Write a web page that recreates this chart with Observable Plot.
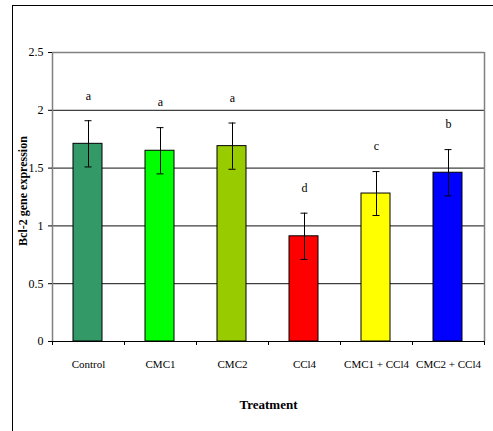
<!DOCTYPE html>
<html>
<head>
<meta charset="utf-8">
<script src="https://cdn.jsdelivr.net/npm/d3@7"></script>
<script src="https://cdn.jsdelivr.net/npm/@observablehq/plot@0.6"></script>
<style>
  html, body { margin: 0; padding: 0; background: #fff; }
  #wrap { position: relative; width: 493px; height: 431px; overflow: hidden; }
  #border { position: absolute; left: 12px; top: 5px; width: 600px; height: 600px;
            border-left: 1.5px solid #000; border-top: 1.5px solid #000; pointer-events: none; }
</style>
</head>
<body>
<div id="wrap"><div id="border"></div></div>
<script>
const categories = ["Control", "CMC1", "CMC2", "CCl4", "CMC1 + CCl4", "CMC2 + CCl4"];
const values = [1.71, 1.65, 1.69, 0.91, 1.28, 1.46];
const errors = [0.20, 0.20, 0.20, 0.20, 0.19, 0.20];
const letters = ["a", "a", "a", "d", "c", "b"];
const colors = ["#339966", "#00ff00", "#99cc00", "#ff0000", "#ffff00", "#0000ff"];
const yTicks = [0, 0.5, 1, 1.5, 2, 2.5];
const yTickLabels = ["0", "0.5", "1", "1.5", "2", "2.5"];

const data = categories.map((c, i) => ({
  cat: c, i, value: values[i], err: errors[i], letter: letters[i], color: colors[i]
}));
const boundaries = d3.range(categories.length + 1);
const centers = categories.map((c, i) => i + 0.5);

const chart = Plot.plot({
  width: 493,
  height: 431,
  marginLeft: 52,
  marginRight: 9,
  marginTop: 52,
  marginBottom: 90,
  style: { fontFamily: "Liberation Serif", fontSize: "12px", background: "transparent", color: "#000" },
  x: { domain: [0, categories.length] },
  y: { domain: [0, 2.5] },
  marks: [
    Plot.ruleY(yTicks.filter(v => v > 0 && v < 2.5), { stroke: "#111", strokeWidth: 1 }),
    Plot.ruleY([2.5], { stroke: "#808080", strokeWidth: 1.5 }),
    Plot.ruleX([categories.length], { stroke: "#808080", strokeWidth: 1.5 }),
    Plot.ruleX([0], { stroke: "#808080", strokeWidth: 1.5 }),
    Plot.rectY(data, {
      x1: "i", x2: d => d.i + 1, y1: 0, y2: "value",
      fill: d => d.color, stroke: "#000", strokeWidth: 1,
      insetLeft: 21, insetRight: 22
    }),
    Plot.ruleY([0], { stroke: "#000", strokeWidth: 1.2 }),
    Plot.ruleX(data, { x: d => d.i + 0.5, y1: d => d.value - d.err, y2: d => d.value + d.err, stroke: "#000", strokeWidth: 1 }),
    Plot.ruleY(data, { x1: d => d.i + 0.5, x2: d => d.i + 0.5, y: d => d.value + d.err, insetLeft: -3.5, insetRight: -3.5, stroke: "#000", strokeWidth: 1 }),
    Plot.ruleY(data, { x1: d => d.i + 0.5, x2: d => d.i + 0.5, y: d => d.value - d.err, insetLeft: -3.5, insetRight: -3.5, stroke: "#000", strokeWidth: 1 }),
    Plot.text(data, { x: d => d.i + 0.5, y: d => d.value + d.err, text: "letter", dy: -25, fontSize: 12, fill: "#000" }),
    Plot.axisY({ ticks: yTicks, tickFormat: (d) => yTickLabels[yTicks.indexOf(d)], tickSize: 4, tickPadding: 5, fontSize: 12, letterSpacing: "-0.6px", label: null, stroke: "#000" }),
    Plot.axisX({ ticks: boundaries, tickSize: 4, tickFormat: () => "", label: null }),
    Plot.axisX({ ticks: centers, tickSize: 0, tickPadding: 19, tickFormat: d => categories[Math.round(d - 0.5)], fontSize: 11, letterSpacing: "-0.2px", label: null }),
    Plot.text(["Treatment"], { frameAnchor: "bottom", dy: 67, fontWeight: "bold", fontSize: 13, fill: "#000" }),
    Plot.text(["Bcl-2 gene expression"], { frameAnchor: "left", textAnchor: "middle", dx: -29, dy: -6, rotate: -90, fontWeight: "bold", fontSize: 12, fill: "#000", letterSpacing: "0.6px" })
  ]
});
chart.style.position = "absolute";
chart.style.left = "0px";
chart.style.top = "0px";
document.getElementById("wrap").insertBefore(chart, document.getElementById("border"));
</script>
</body>
</html>
